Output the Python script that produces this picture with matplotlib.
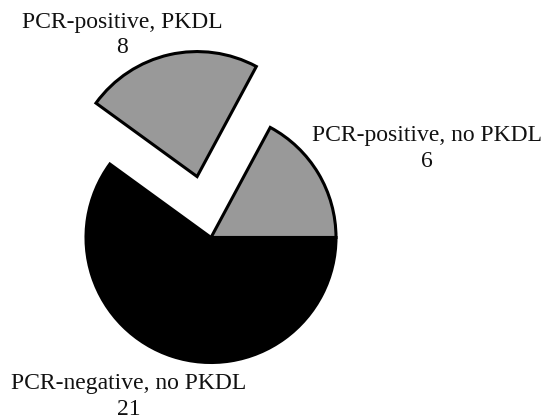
import matplotlib as mpl
mpl.use('Agg')
import matplotlib.pyplot as plt

# Data
labels = ['PCR-positive, no PKDL', 'PCR-positive, PKDL', 'PCR-negative, no PKDL']
counts = [6, 8, 21]
colors = ['#999999', '#999999', '#000000']
explode = [0, 0.5, 0]

# Label placement (data units, pie radius = 1)
label_xy = [(1.728, 0.715), (-0.712, 1.62), (-0.66, -1.27)]

plt.rcParams['font.family'] = ['Liberation Serif', 'DejaVu Serif']

fg = plt.figure(figsize=(5.45, 4.2), dpi=100)
ax = fg.add_axes([0, 0, 1, 1])

wedges, _ = ax.pie(counts, colors=colors, explode=explode, startangle=0,
                   counterclock=True, radius=1.0,
                   wedgeprops=dict(edgecolor='black', linewidth=2.2))

for lab, n, (x, y) in zip(labels, counts, label_xy):
  ax.text(x, y, '{0:s}\n{1:d}'.format(lab, n), ha='center', va='center',
          multialignment='center', fontsize=17, linespacing=1.3,
          color='#111111')

# 1 data unit = 125 px, centre of pie at pixel (211, 237.5)
ax.set_xlim(-211 / 125, (545 - 211) / 125)
ax.set_ylim(-(420 - 237.5) / 125, 237.5 / 125)
ax.set_aspect('auto')
ax.axis('off')

fg.savefig('out.png', dpi=100)
